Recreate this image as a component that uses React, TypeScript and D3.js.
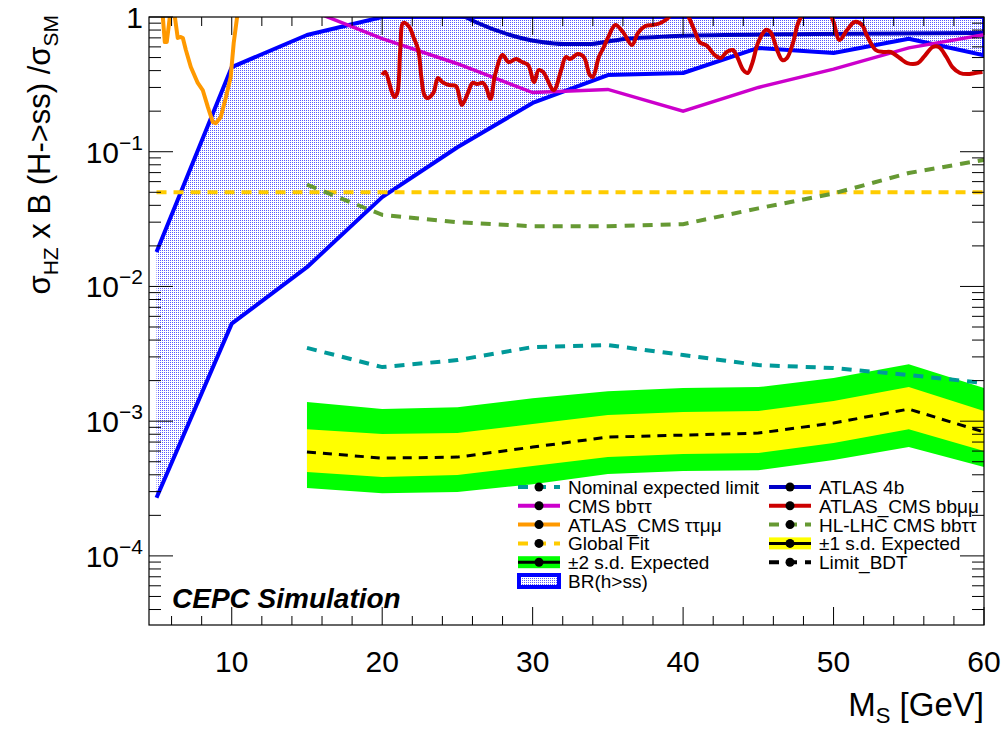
import * as d3 from "d3";

// ---- data ----
const massGrid = [15, 20, 25, 30, 35, 40, 45, 50, 55, 60];
const limitBDT = [5.9e-4, 5.32e-4, 5.41e-4, 6.42e-4, 7.62e-4, 7.88e-4, 8.16e-4, 9.69e-4, 1.23e-3, 8.3e-4];
const oneSigmaHi = [8.73e-4, 8.02e-4, 8.16e-4, 9.52e-4, 1.11e-3, 1.17e-3, 1.19e-3, 1.41e-3, 1.79e-3, 1.19e-3];
const oneSigmaLo = [4.19e-4, 3.85e-4, 3.98e-4, 4.64e-4, 5.41e-4, 5.7e-4, 5.8e-4, 6.88e-4, 8.73e-4, 6.0e-4];
const twoSigmaHi = [1.39e-3, 1.23e-3, 1.27e-3, 1.48e-3, 1.67e-3, 1.76e-3, 1.79e-3, 2.09e-3, 2.65e-3, 1.76e-3];
const twoSigmaLo = [3.19e-4, 2.92e-4, 2.98e-4, 3.41e-4, 4.05e-4, 4.26e-4, 4.33e-4, 5.14e-4, 6.42e-4, 4.56e-4];
const nominalLimit = [3.5e-3, 2.52e-3, 2.84e-3, 3.55e-3, 3.67e-3, 3.1e-3, 2.61e-3, 2.48e-3, 2.2e-3, 1.92e-3];
const hlLhcBbtt = [0.057, 0.034, 0.03, 0.028, 0.028, 0.029, 0.038, 0.049, 0.0695, 0.087];
const cmsBbtt = [1.15, 0.69, 0.45, 0.275, 0.29, 0.2, 0.3, 0.41, 0.59, 0.74];

const brMass = [5, 10, 15, 20, 25, 30, 35, 40, 45, 50, 55, 60];
const brLow = [2.7e-4, 5.3e-3, 0.0139, 0.046, 0.108, 0.23, 0.371, 0.384, 0.589, 0.54, 0.69, 0.52];
const brHigh = [0.018, 0.425, 0.735, 1, 1, 1, 1, 1, 1, 1, 1, 1];

const globalFitMass = [5, 60];
const globalFit = [0.05, 0.05];

const atlas4bMass = [20, 23, 25.5, 26.2, 29.5, 30.6, 32.1, 33.9, 34.8, 36.1, 38.3, 39.5, 48.8, 60];
const atlas4b = [1.4, 1.15, 1.0, 0.918, 0.687, 0.652, 0.63, 0.63, 0.652, 0.687, 0.711, 0.723, 0.748, 0.761];

const ttmmMass = [5.3, 5.42, 5.55, 5.68, 5.82, 5.88, 6.05, 6.22, 6.41, 6.61, 6.75, 6.95, 7.28, 7.74, 8.07, 8.41, 8.74, 8.94, 9.27, 9.6, 9.93, 10.13, 10.33, 10.5];
const ttmm = [1.3, 1.0, 0.652, 0.652, 0.872, 1.0, 1.2, 1.0, 0.699, 0.711, 0.699, 0.569, 0.425, 0.324, 0.287, 0.215, 0.166, 0.163, 0.181, 0.25, 0.359, 0.641, 0.95, 1.3];

const bbmmMass = [20.0, 20.2, 20.6, 20.8, 21.0, 21.2, 21.4, 21.8, 22.1, 22.4, 22.6, 22.8, 23.0, 23.4, 23.7, 24.0, 24.4, 24.9, 25.2, 25.3, 25.7, 26.0, 26.3, 26.7, 26.9, 27.2, 27.5, 28.0, 28.4, 28.9, 29.3, 29.7, 30.1, 30.4, 30.7, 31.4, 31.9, 32.2, 32.5, 33.0, 33.4, 33.8, 34.0, 34.4, 34.7, 35.0, 35.5, 36.0, 36.6, 37.0, 37.5, 38.0, 38.5, 39.0, 39.7, 40.4, 40.8, 41.1, 41.6, 42.1, 42.5, 42.9, 43.3, 43.6, 44.0, 44.3, 44.6, 45.0, 45.5, 45.8, 46.3, 46.6, 46.9, 47.3, 47.6, 47.8, 48.8, 49.9, 50.4, 50.9, 51.4, 51.9, 52.2, 52.8, 53.3, 53.8, 54.4, 54.9, 55.6, 56.0, 56.6, 57.0, 57.5, 57.9, 58.4, 58.9, 59.4, 59.9];
const bbmm = [0.371, 0.391, 0.287, 0.255, 0.273, 0.569, 0.903, 0.843, 0.699, 0.569, 0.359, 0.264, 0.25, 0.273, 0.352, 0.329, 0.313, 0.307, 0.234, 0.222, 0.273, 0.324, 0.318, 0.324, 0.302, 0.246, 0.371, 0.522, 0.463, 0.488, 0.463, 0.44, 0.329, 0.404, 0.391, 0.287, 0.404, 0.505, 0.488, 0.531, 0.505, 0.371, 0.359, 0.505, 0.589, 0.699, 0.872, 0.774, 0.62, 0.761, 0.858, 0.872, 0.903, 0.983, 1.35, 0.983, 0.774, 0.652, 0.609, 0.522, 0.496, 0.55, 0.569, 0.505, 0.404, 0.384, 0.455, 0.652, 0.801, 0.774, 0.55, 0.479, 0.496, 0.641, 0.872, 0.983, 1.5, 0.983, 0.675, 0.801, 0.918, 0.872, 0.735, 0.569, 0.55, 0.55, 0.496, 0.455, 0.455, 0.505, 0.599, 0.599, 0.505, 0.425, 0.384, 0.377, 0.384, 0.391];

const xMajor = [10, 20, 30, 40, 50, 60];
const yMajor = [1e-4, 1e-3, 1e-2, 1e-1, 1];

const FONT = "'Liberation Sans', Arial, Helvetica, sans-serif";

const x = d3.scaleLinear().domain([4.5, 60]).range([149, 984]);
const y = d3.scaleLog().domain([3.07e-5, 1]).range([625, 17]);

const line = (xs: number[], ys: number[], curve: d3.CurveFactory = d3.curveLinear) =>
    d3.line<number>().x((_, i) => x(xs[i])).y((v) => y(v)).curve(curve)(ys) || "";

const band = (xs: number[], lo: number[], hi: number[]) =>
    d3.area<number>().x((_, i) => x(xs[i])).y0((_, i) => y(lo[i])).y1((v) => y(v))(hi) || "";

function LegendEntry({ col, row, label, kind, color, dash }: {
    col: number, row: number, label: React.ReactNode, kind: string, color: string, dash?: string
}) {
    const x0 = col === 0 ? 518 : 769;
    const cy = 487 + row * 18.8;
    const x1 = x0 + 42;
    return <g>
        {kind === "box" && <rect x={x0} y={cy - 6} width={42} height={12} fill={color}/>}
        {kind === "br" && <rect x={x0 + 1} y={cy - 6} width={40} height={12} fill="url(#dots)" stroke="#0000ff" strokeWidth={4}/>}
        {kind !== "br" && <line x1={x0} x2={x1} y1={cy} y2={cy}
                                stroke={kind === "box" ? "#000" : color} strokeWidth={kind === "box" ? 3 : 4}
                                strokeDasharray={dash}/>}
        {kind !== "br" && <circle cx={x0 + 21} cy={cy} r={4.5} fill="#000"/>}
        <text x={x0 + 50} y={cy + 7} fontSize={19} fontFamily={FONT}>{label}</text>
    </g>;
}

export default function App() {
    const xMinor = d3.range(6, 60, 2).filter(v => v % 10 !== 0);
    const yMinor: number[] = [];
    for (let e = -5; e < 0; e++) for (let k = 2; k < 10; k++) {
        const v = k * Math.pow(10, e);
        if (v >= 3.07e-5 && v < 1) yMinor.push(v);
    }
    const [L, R] = x.range();
    const [B, T] = y.range();

    return <svg width={1004} height={731} style={{ position: "absolute", left: 0, top: 0, background: "#fff" }}>
        <defs>
            <clipPath id="frame"><rect x={L} y={T} width={R - L} height={B - T}/></clipPath>
            <pattern id="dots" width={2} height={2} patternUnits="userSpaceOnUse">
                <rect width={2} height={2} fill="#fff"/>
                <rect width={1} height={1} fill="#5a5aff"/>
            </pattern>
        </defs>
        <rect width={1004} height={731} fill="#fff"/>

        <g clipPath="url(#frame)">
            {/* BR(h>ss) region */}
            <path d={band(brMass, brLow, brHigh)} fill="url(#dots)"/>
            <path d={line(brMass, brHigh) + "L" + x(60) + "," + y(brLow[brLow.length - 1]) +
                line(brMass.slice().reverse(), brLow.slice().reverse()).replace(/^M/, "L")}
                  fill="none" stroke="#0000ff" strokeWidth={4} strokeLinejoin="round"/>

            {/* expected bands */}
            <path d={band(massGrid, twoSigmaLo, twoSigmaHi)} fill="#00ff00"/>
            <path d={band(massGrid, oneSigmaLo, oneSigmaHi)} fill="#ffff00"/>
            <path d={line(massGrid, limitBDT)} fill="none" stroke="#000" strokeWidth={3} strokeDasharray="9,7"/>
            <path d={line(massGrid, nominalLimit)} fill="none" stroke="#009999" strokeWidth={4} strokeDasharray="10,8"/>

            <path d={line(atlas4bMass, atlas4b, d3.curveMonotoneX)} fill="none" stroke="#0000c8" strokeWidth={4}/>
            <path d={line(massGrid, cmsBbtt)} fill="none" stroke="#cc00cc" strokeWidth={3.5}/>
            <path d={line(ttmmMass, ttmm)} fill="none" stroke="#ff9900" strokeWidth={4} strokeLinejoin="round"/>
            <path d={line(bbmmMass, bbmm, d3.curveCatmullRom)} fill="none" stroke="#cc0000" strokeWidth={4} strokeLinejoin="round"/>
            <path d={line(globalFitMass, globalFit)} fill="none" stroke="#ffcc00" strokeWidth={4} strokeDasharray="10,7"/>
            <path d={line(massGrid, hlLhcBbtt)} fill="none" stroke="#669933" strokeWidth={4} strokeDasharray="10,8"/>
        </g>

        {/* frame and ticks */}
        <rect x={L} y={T} width={R - L} height={B - T} fill="none" stroke="#000" strokeWidth={1.2}/>
        {xMajor.map(v => <g key={"xM" + v}>
            <line x1={x(v)} x2={x(v)} y1={B} y2={B - 18} stroke="#000"/>
            <line x1={x(v)} x2={x(v)} y1={T} y2={T + 18} stroke="#000"/>
            <text x={x(v)} y={672} textAnchor="middle" fontSize={30} fontFamily={FONT}>{v}</text>
        </g>)}
        {xMinor.map(v => <g key={"xm" + v}>
            <line x1={x(v)} x2={x(v)} y1={B} y2={B - 9} stroke="#000"/>
            <line x1={x(v)} x2={x(v)} y1={T} y2={T + 9} stroke="#000"/>
        </g>)}
        {yMajor.map(v => {
            const e = Math.round(Math.log10(v));
            return <g key={"yM" + v}>
                <line x1={L} x2={L + 24} y1={y(v)} y2={y(v)} stroke="#000"/>
                <line x1={R} x2={R - 24} y1={y(v)} y2={y(v)} stroke="#000"/>
                <text x={143} y={y(v) + 11} textAnchor="end" fontSize={30} fontFamily={FONT}>
                    {e === 0 ? "1" : <>10<tspan dy={-13} fontSize={21}>{"\u2212" + (-e)}</tspan></>}
                </text>
            </g>;
        })}
        {yMinor.map(v => <g key={"ym" + v}>
            <line x1={L} x2={L + 12} y1={y(v)} y2={y(v)} stroke="#000"/>
            <line x1={R} x2={R - 12} y1={y(v)} y2={y(v)} stroke="#000"/>
        </g>)}

        {/* axis titles */}
        <text x={984} y={716} textAnchor="end" fontSize={33} fontFamily={FONT}>
            M<tspan dy={7} fontSize={22}>S</tspan><tspan dy={-7}> [GeV]</tspan>
        </text>
        <text transform="translate(50,15) rotate(-90)" textAnchor="end" fontSize={31} fontFamily={FONT}>
            σ<tspan dy={8} fontSize={21}>HZ</tspan><tspan dy={-8}> x B (H-&gt;ss) /σ</tspan><tspan dy={8} fontSize={21}>SM</tspan>
        </text>

        <text x={172} y={608} fontSize={28} fontWeight="bold" fontStyle="italic" fontFamily={FONT}>CEPC Simulation</text>

        {/* legend */}
        <LegendEntry col={0} row={0} label="Nominal expected limit" kind="line" color="#009999" dash="10,8"/>
        <LegendEntry col={0} row={1} label="CMS bbττ" kind="line" color="#cc00cc"/>
        <LegendEntry col={0} row={2} label="ATLAS_CMS ττμμ" kind="line" color="#ff9900"/>
        <LegendEntry col={0} row={3} label="Global Fit" kind="line" color="#ffcc00" dash="10,8"/>
        <LegendEntry col={0} row={4} label="±2 s.d. Expected" kind="box" color="#00ff00"/>
        <LegendEntry col={0} row={5} label="BR(h>ss)" kind="br" color="#0000ff"/>
        <LegendEntry col={1} row={0} label="ATLAS 4b" kind="line" color="#0000c8"/>
        <LegendEntry col={1} row={1} label="ATLAS_CMS bbμμ" kind="line" color="#cc0000"/>
        <LegendEntry col={1} row={2} label="HL-LHC CMS bbττ" kind="line" color="#669933" dash="10,8"/>
        <LegendEntry col={1} row={3} label="±1 s.d. Expected" kind="box" color="#ffff00"/>
        <LegendEntry col={1} row={4} label="Limit_BDT" kind="line" color="#000" dash="10,8"/>
    </svg>;
}
